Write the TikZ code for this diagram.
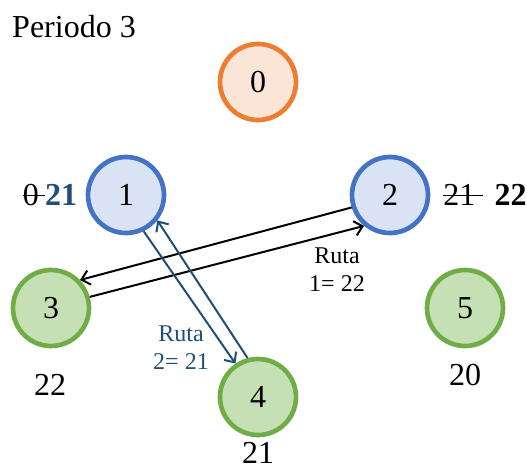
\documentclass[tikz,border=0pt]{standalone}
\usepackage{fontspec}
\setmainfont{Liberation Serif}
\usetikzlibrary{arrows.meta}
\definecolor{naranja}{HTML}{ED7D31}
\definecolor{naranjaclaro}{HTML}{FBE5D6}
\definecolor{azul}{HTML}{4472C4}
\definecolor{azulclaro}{HTML}{DAE3F3}
\definecolor{verde}{HTML}{70AD47}
\definecolor{verdeclaro}{HTML}{C5E0B4}
\definecolor{rutaazul}{HTML}{1F4E79}
\newcommand\tachado[1]{\setbox0\hbox{#1}\rlap{\rule[0.27em]{\wd0}{0.05em}}\box0}
\tikzset{
  nodo/.style={circle, line width=3.5pt, minimum size=57pt, inner sep=0pt},
  inicio/.style={nodo, draw=naranja, fill=naranjaclaro},
  nodoazul/.style={nodo, draw=azul, fill=azulclaro},
  nodoverde/.style={nodo, draw=verde, fill=verdeclaro},
  flecha/.style={-{Straight Barb[length=6pt,width=11pt]}, line width=1.5pt},
  ruta/.style={align=center, font=\fontsize{18}{21}\selectfont}
}
\begin{document}
\begin{tikzpicture}[x=0.75pt, y=-0.75pt, every node/.style={font=\fontsize{24}{28}\selectfont}]
        \useasboundingbox (0,0) rectangle (527,472);
        \node[inicio] (v0) at (258,82) {0};
        \node[nodoazul] (v1) at (126,195) {1};
        \node[nodoazul] (v2) at (390,195) {2};
        \node[nodoverde] (v3) at (51,308) {3};
        \node[nodoverde] (v4) at (258,397) {4};
        \node[nodoverde] (v5) at (465,308) {5};

        \draw[flecha] (v2.198) -- (v3.44);
        \draw[flecha] (v3.16) -- (v2.230);
        \draw[flecha, rutaazul] (v1.296) -- (v4.124);
        \draw[flecha, rutaazul] (v4.105) -- (v1.321);

        \node[anchor=base] (titulo) at (74,37) {Periodo 3};
        \node[anchor=base] (c1) at (50,205) {\tachado{0\kern0.2em}\textcolor{rutaazul}{\textbf{21}}};
        \node[anchor=base] (c2) at (485,205) {\tachado{21\kern0.25em}\kern0.35em\textbf{22}};
        \node[anchor=base] (c3) at (50,395) {22};
        \node[anchor=base] (c4) at (258,463) {21};
        \node[anchor=base] (c5) at (465,385) {20};
        \node[ruta] (r1) at (337,270) {Ruta\\1= 22};
        \node[ruta, text=rutaazul] (r2) at (181,348) {Ruta\\2= 21};
    \end{tikzpicture}
\end{document}
